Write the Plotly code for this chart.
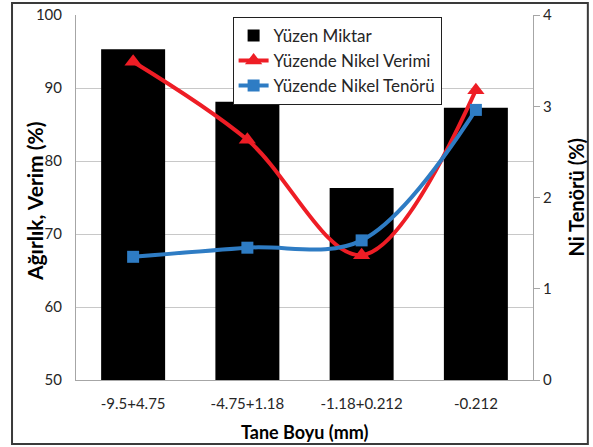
import plotly.graph_objects as go

# Size fractions and measured values
categories = ["-9.5+4.75", "-4.75+1.18", "-1.18+0.212", "-0.212"]
yuzen_miktar = [95.3, 88.1, 76.3, 87.3]        # weight, %
nikel_verimi = [93.6, 82.9, 67.1, 89.7]        # nickel recovery, %
nikel_tenoru = [1.35, 1.45, 1.53, 2.96]        # Ni grade, %

FONT = "Lato, Carlito, Calibri, sans-serif"
TXT = "#262626"
RED = "#EE1D25"
BLUE = "#2E7CC4"

fig = go.Figure()

fig.add_trace(go.Bar(
    x=categories, y=yuzen_miktar, name="Yüzen Miktar",
    marker=dict(color="black", line=dict(width=0)),
    width=0.56, yaxis="y",
))

fig.add_trace(go.Scatter(
    x=categories, y=nikel_verimi, name="Yüzende Nikel Verimi",
    mode="lines+markers",
    line=dict(color=RED, width=4, shape="spline", smoothing=1.0),
    marker=dict(symbol="triangle-up", size=15, color=RED),
    yaxis="y",
))

fig.add_trace(go.Scatter(
    x=categories, y=nikel_tenoru, name="Yüzende Nikel Tenörü",
    mode="lines+markers",
    line=dict(color=BLUE, width=4, shape="spline", smoothing=1.0),
    marker=dict(symbol="square", size=12, color=BLUE),
    yaxis="y2",
))

fig.update_layout(
    width=593, height=447,
    margin=dict(l=76, r=60, t=15, b=67, autoexpand=False),
    paper_bgcolor="white", plot_bgcolor="white",
    font=dict(family=FONT, color=TXT, size=15),
    bargap=0.44,
    showlegend=True,
    legend=dict(
        x=0.8, y=0.995, xanchor="right", yanchor="top",
        bgcolor="white", bordercolor="#202020", borderwidth=1,
        font=dict(family=FONT, size=17, color=TXT),
        tracegroupgap=0, itemwidth=30,
    ),
    xaxis=dict(
        automargin=False,
        showline=True, linecolor="#A6A6A6", linewidth=1,
        showgrid=False, ticks="", ticklabelstandoff=10,
        tickfont=dict(size=15, color=TXT),
    ),
    yaxis=dict(
        automargin=False,
        range=[50, 100], dtick=10,
        showline=True, linecolor="#A6A6A6", linewidth=1,
        showgrid=True, gridcolor="#C8C8C8", gridwidth=1,
        ticks="", ticklabelstandoff=10, zeroline=False,
        tickfont=dict(size=15, color=TXT),
    ),
    yaxis2=dict(
        automargin=False,
        range=[0, 4], dtick=1, overlaying="y", side="right",
        showline=True, linecolor="#A6A6A6", linewidth=1,
        showgrid=False, zeroline=False,
        ticks="outside", ticklen=6, tickcolor="#A6A6A6",
        tickfont=dict(size=15, color=TXT),
    ),
    annotations=[
        dict(text="<b>Ağırlık, Verim (%)</b>", xref="paper", yref="paper",
             x=-0.092, y=0.49, textangle=-90, showarrow=False,
             xanchor="center", yanchor="middle",
             font=dict(family=FONT, size=21, color="black")),
        dict(text="<b>Ni Tenörü (%)</b>", xref="paper", yref="paper",
             x=1.092, y=0.5, textangle=-90, showarrow=False,
             xanchor="center", yanchor="middle",
             font=dict(family=FONT, size=20, color="black")),
        dict(text="<b>Tane Boyu (mm)</b>", xref="paper", yref="paper",
             x=0.5, y=-0.1425, showarrow=False,
             xanchor="center", yanchor="middle",
             font=dict(family=FONT, size=18, color="black")),
    ],
    shapes=[dict(
        type="rect", xref="paper", yref="paper",
        x0=-0.140, x1=1.120, y0=-0.175, y1=1.033,
        line=dict(color="#3A3A3A", width=2), fillcolor="rgba(0,0,0,0)",
        layer="above",
    )],
)

fig.write_html("out.html")
